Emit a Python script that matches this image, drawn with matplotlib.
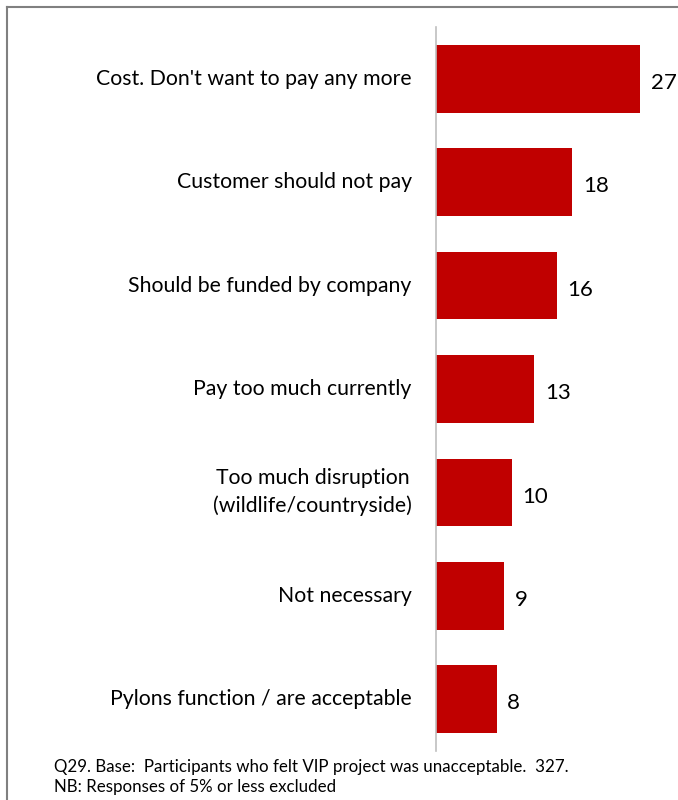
import matplotlib
matplotlib.use("Agg")
import matplotlib.pyplot as plt
from matplotlib.lines import Line2D

categories = ["Cost. Don't want to pay any more",
              "Customer should not pay",
              "Should be funded by company",
              "Pay too much currently",
              "Too much disruption\n(wildlife/countryside)",
              "Not necessary",
              "Pylons function / are acceptable"]
values = [27, 18, 16, 13, 10, 9, 8]
notes = ["Q29. Base:  Participants who felt VIP project was unacceptable.  327.",
         "NB: Responses of 5% or less excluded"]

plt.rcParams['font.family'] = ['Lato', 'DejaVu Sans']

fig = plt.figure(figsize=(6.78, 8), dpi=100)
ax = fig.add_axes([436 / 678, 1 - 751 / 800, 1 - 436 / 678, 724 / 800])

ypos = list(range(len(values)))
ax.barh(ypos, values, height=0.655, color="#C00000")
ax.set_ylim(len(values) - 0.5, -0.5)
ax.set_xlim(0, 32)

for y, v in zip(ypos, values):
    ax.text(v + 1.4, y + 0.04, str(v), va="center", ha="left", fontsize=16)
for y, c in zip(ypos, categories):
    ax.text(-3.2, y, c, va="center", ha="right", fontsize=15.3, multialignment="center",
            linespacing=1.45)

for s in ["top", "right", "bottom"]:
    ax.spines[s].set_visible(False)
ax.spines["left"].set_color("#bfbfbf")
ax.spines["left"].set_linewidth(1.2)
ax.set_xticks([])
ax.set_yticks([])
ax.patch.set_visible(False)

fig.text(54 / 678, 1 - 767 / 800, notes[0], fontsize=12.2, va="center", ha="left")
fig.text(54 / 678, 1 - 787 / 800, notes[1], fontsize=12.2, va="center", ha="left")

# outer frame of the slide box
fig.add_artist(Line2D([7 / 678, 7 / 678], [0, 1 - 7 / 800], transform=fig.transFigure,
                      color="#808080", lw=1.5))
fig.add_artist(Line2D([7 / 678, 1], [1 - 7 / 800, 1 - 7 / 800], transform=fig.transFigure,
                      color="#808080", lw=1.5))

fig.savefig("out.png", dpi=100)
